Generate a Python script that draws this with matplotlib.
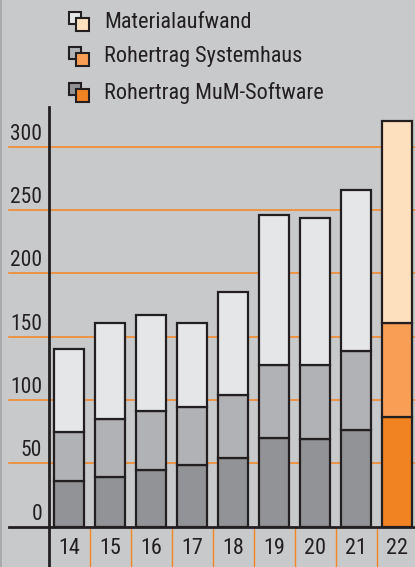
import matplotlib
matplotlib.use("Agg")
import matplotlib.pyplot as plt
from matplotlib.patches import Rectangle
from matplotlib.lines import Line2D

plt.rcParams['font.family'] = ['Roboto Condensed', 'DejaVu Sans']

# ---- data ----
years = ['14', '15', '16', '17', '18', '19', '20', '21', '22']
mum_software = [36, 39.5, 45, 49, 54, 70, 69, 76, 87]
systemhaus = [39, 45.5, 46.5, 45.5, 50, 58, 59, 62.5, 74]
materialaufwand = [65, 75.5, 75.5, 66.5, 81.5, 118, 116, 127.5, 159]
yticks = [0, 50, 100, 150, 200, 250, 300]
legend_labels = ['Materialaufwand', 'Rohertrag Systemhaus', 'Rohertrag MuM-Software']

# ---- style ----
BG = '#c8c9cb'
INK = '#231f20'
ORANGE_LINE = '#f5851f'
grey_cols = ['#929396', '#b1b2b5', '#e5e6e8']      # MuM, Systemhaus, Material
orange_cols = ['#f28322', '#f89f55', '#fde0bd']

W, H = 415, 567
fig = plt.figure(figsize=(W / 100, H / 100), dpi=100, facecolor=BG)

def fx(px):
    return px / W

def fy(py):
    return 1 - py / H

y0_px, top_px, left_px = 526.7, 107, 49
ax = fig.add_axes([fx(left_px), fy(y0_px), fx(W - left_px), (y0_px - top_px) / H])
ax.set_facecolor('none')
for s in ax.spines.values():
    s.set_visible(False)
ax.set_xticks([])
ax.set_yticks([])
px_per_unit = (526.7 - 146.7) / 300
ax.set_ylim(0, (y0_px - top_px) / px_per_unit)
ax.set_xlim(-20 / 41, (W - 69) / 41)

# gridlines
gx0 = (9 - left_px) / (W - left_px)
for v in yticks[1:]:
    ax.plot([gx0, 1], [v, v], transform=ax.get_yaxis_transform(), clip_on=False,
            color=ORANGE_LINE, lw=1.1, zorder=0.5)

# bars
x = list(range(len(years)))
n = len(years)
seg = [mum_software, systemhaus, materialaufwand]
bottoms = [0] * n
for k, vals in enumerate(seg):
    cols = [grey_cols[k]] * (n - 1) + [orange_cols[k]]
    ax.bar(x, vals, bottom=bottoms, width=0.73, color=cols, edgecolor=INK,
           linewidth=1.6, zorder=2)
    bottoms = [b + v for b, v in zip(bottoms, vals)]

# y labels
xl = (42 - left_px) / (W - left_px)
for v in yticks:
    ax.text(xl, v + 5.5, str(v), transform=ax.get_yaxis_transform(), ha='right',
            va='baseline', fontsize=15.5, color=INK)

# x labels & separators
for i, yr in enumerate(years):
    ax.text(i, -21.5 / (y0_px - top_px), yr, transform=ax.get_xaxis_transform(),
            ha='center', va='center', fontsize=16, color=INK)
for i in range(n - 1):
    ax.plot([i + 0.5, i + 0.5], [0, -(H - y0_px) / (y0_px - top_px)],
            transform=ax.get_xaxis_transform(), clip_on=False,
            color=ORANGE_LINE, lw=1.0, zorder=1)

# axis lines
fig.add_artist(Line2D([fx(9), 1], [fy(y0_px), fy(y0_px)], color=INK, lw=2.0))
fig.add_artist(Line2D([fx(left_px), fx(left_px)], [fy(top_px), 0], color=INK, lw=2.0))
fig.add_artist(Line2D([fx(0.5), fx(0.5)], [0, 1], color='#a3a4a6', lw=1.2))

# legend
leg_y = [22, 57, 93]
back_cols = [grey_cols[2], grey_cols[1], grey_cols[0]]
front_cols = [orange_cols[2], orange_cols[1], orange_cols[0]]
for yc, lab, bc, fc in zip(leg_y, legend_labels, back_cols, front_cols):
    fig.add_artist(Rectangle((fx(69), fy(yc + 2)), 12 / W, 12 / H,
                             transform=fig.transFigure, facecolor=bc, edgecolor=INK, lw=1.5))
    fig.add_artist(Rectangle((fx(76), fy(yc + 9)), 13 / W, 13 / H,
                             transform=fig.transFigure, facecolor=fc, edgecolor=INK, lw=1.5))
    fig.text(fx(104), fy(yc), lab, ha='left', va='center', fontsize=16, color=INK)

fig.savefig('out.png', dpi=100, facecolor=BG)
